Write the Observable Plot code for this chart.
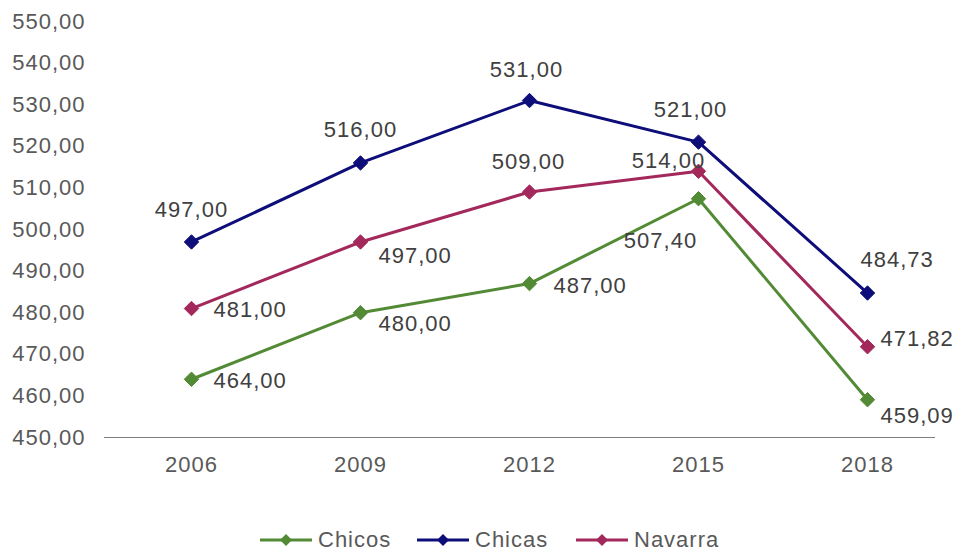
<!DOCTYPE html>
<html>
<head>
<meta charset="utf-8">
<script src="https://cdn.jsdelivr.net/npm/d3@7"></script>
<script src="https://cdn.jsdelivr.net/npm/@observablehq/plot@0.6"></script>
<style>
  body { margin: 0; background: #fff; font-family: "Liberation Sans", Arial, sans-serif; }
  #chart svg { display: block; }
  #chart svg text { letter-spacing: 1px; }
  #legend { position: relative; height: 30px; margin-top: 35px; }
  .item { position: absolute; top: 0; display: flex; align-items: center; height: 30px; font-size: 22px; letter-spacing: 1px; color: #595959; }
  .item svg { margin-right: 4px; }
</style>
</head>
<body>
<div id="chart"></div>
<div id="legend"></div>
<script>
const years = ["2006", "2009", "2012", "2015", "2018"];
const seriesNames = ["Chicos", "Chicas", "Navarra"];
const chicos = [464.00, 480.00, 487.00, 507.40, 459.09];
const chicas = [497.00, 516.00, 531.00, 521.00, 484.73];
const navarra = [481.00, 497.00, 509.00, 514.00, 471.82];
const yTicks = [450, 460, 470, 480, 490, 500, 510, 520, 530, 540, 550];
const colors = {Chicos: "#538A35", Chicas: "#0E0E7A", Navarra: "#A3285B"};

const valuesBySeries = {Chicos: chicos, Chicas: chicas, Navarra: navarra};
const data = seriesNames.flatMap(s => years.map((y, i) => ({series: s, year: y, value: valuesBySeries[s][i]})));

// label placement per series/year: [dx, dy, anchor]
const place = {
  Chicas:  [[0,-32,"middle"],[0,-33,"middle"],[-3,-31,"middle"],[-8,-32,"middle"],[-7,-33,"start"]],
  Navarra: [[22,1,"start"],[18,14,"start"],[-1,-30,"middle"],[-30,-10,"middle"],[13,-8,"start"]],
  Chicos:  [[22,2,"start"],[18,11,"start"],[24,2,"start"],[-38,42,"middle"],[13,16,"start"]]
};
const fmt = v => v.toFixed(2).replace(".", ",");

const labelMarks = data.map(d => {
  const [dx, dy, anchor] = place[d.series][years.indexOf(d.year)];
  return Plot.text([d], {x: "year", y: "value", text: d => fmt(d.value), dx, dy, textAnchor: anchor,
    fill: "#404040", fontSize: 22});
});

const chart = Plot.plot({
  width: 963,
  height: 490,
  marginLeft: 106,
  marginRight: 11,
  marginTop: 21,
  marginBottom: 53,
  style: {fontFamily: "Liberation Sans, Arial, sans-serif", background: "#fff"},
  x: {type: "point", domain: years, padding: 0.5, label: null},
  y: {domain: [450, 550], label: null},
  color: {domain: seriesNames, range: seriesNames.map(s => colors[s])},
  marks: [
    Plot.axisX({fontSize: 22, fill: "#595959", tickSize: 0, tickPadding: 19, label: null}),
    Plot.axisY({ticks: yTicks, fontSize: 22, fill: "#595959", tickSize: 0, tickPadding: 21, tickFormat: fmt, label: null}),
    Plot.ruleY([450], {stroke: "#7f7f7f", strokeWidth: 1.2, insetRight: 17, insetLeft: -2}),
    Plot.line(data, {x: "year", y: "value", z: "series", stroke: "series", strokeWidth: 3}),
    Plot.dot(data, {x: "year", y: "value", fill: "series", symbol: "diamond2", r: 6.5, stroke: "series", strokeWidth: 1}),
    ...labelMarks
  ]
});
document.getElementById("chart").appendChild(chart);

const legend = document.getElementById("legend");
const legendLeft = [258, 415, 574];
seriesNames.forEach((s, i) => {
  const item = document.createElement("div");
  item.className = "item";
  item.style.left = legendLeft[i] + "px";
  item.innerHTML = `<svg width="56" height="20"><line x1="2" y1="10" x2="54" y2="10" stroke="${colors[s]}" stroke-width="3"/><path d="M28,4L34,10L28,16L22,10Z" fill="${colors[s]}"/></svg><span>${s}</span>`;
  legend.appendChild(item);
});
</script>
</body>
</html>
